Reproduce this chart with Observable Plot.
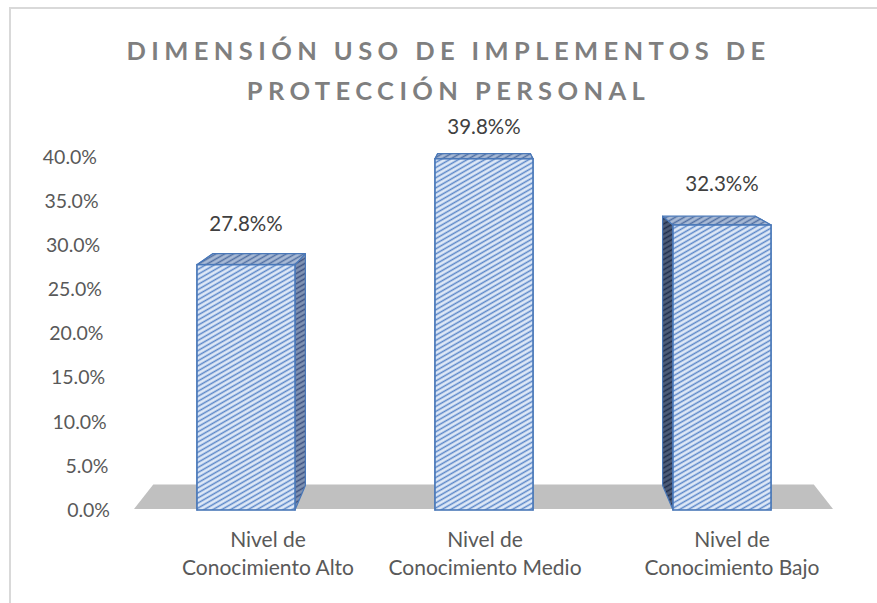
<!DOCTYPE html>
<html>
<head>
<meta charset="utf-8">
<script src="https://cdn.jsdelivr.net/npm/d3@7"></script>
<script src="https://cdn.jsdelivr.net/npm/@observablehq/plot@0.6"></script>
<style>
  html, body { margin: 0; padding: 0; background: #fff; }
  #wrap { position: relative; width: 877px; height: 603px; overflow: hidden; }
  #frame { position: absolute; left: 9px; top: 7px; width: 900px; height: 700px; border-left: 2px solid #d9d9d9; border-top: 2px solid #d9d9d9; box-sizing: border-box; }
  #title { position: absolute; left: 0; top: 30px; width: 877px; text-align: center; font-family: Lato, "Open Sans", sans-serif; font-weight: 700; font-size: 25.5px; letter-spacing: 5.4px; padding-left: 20px; box-sizing: border-box; line-height: 40px; color: #7f7f7f; }
  #chart { position: absolute; left: 0; top: 0; }
</style>
</head>
<body>
<div id="wrap">
  <div id="frame"></div>
  <div id="chart"></div>
  <div id="title">DIMENSIÓN USO DE IMPLEMENTOS DE<br>PROTECCIÓN PERSONAL</div>
</div>
<script>
// ---- data ----
const categories = ["Nivel de Conocimiento Alto", "Nivel de Conocimiento Medio", "Nivel de Conocimiento Bajo"];
const axisLabels = ["Nivel de\nConocimiento Alto", "Nivel de\nConocimiento Medio", "Nivel de\nConocimiento Bajo"];
const values = [27.8, 39.8, 32.3];
const valueLabels = ["27.8%%", "39.8%%", "32.3%%"];
const yTicks = [0, 5, 10, 15, 20, 25, 30, 35, 40];
const yTickLabels = ["0.0%", "5.0%", "10.0%", "15.0%", "20.0%", "25.0%", "30.0%", "35.0%", "40.0%"];

const data = categories.map((c, i) => ({cat: c, value: values[i], label: valueLabels[i], axis: axisLabels[i]}));

const FONT = "Lato, 'Open Sans', sans-serif";
const TEXT = "#595959";

// 3D decoration: floor, top faces, side faces (computed from scales)
function solids(index, scales, vals, dims) {
  const {x, y} = scales;
  const g = d3.create("svg:g");
  const defs = g.append("defs");
  function pat(id, bg, fg) {
    const p = defs.append("pattern").attr("id", id).attr("patternUnits", "userSpaceOnUse")
      .attr("width", 6).attr("height", 4.4).attr("patternTransform", "rotate(-30)");
    p.append("rect").attr("width", 6).attr("height", 4.4).attr("fill", bg);
    p.append("line").attr("x1", 0).attr("x2", 6).attr("y1", 2.2).attr("y2", 2.2)
      .attr("stroke", fg).attr("stroke-width", 1.5);
  }
  pat("hFront", "#dfe9f7", "#5a86c8");
  pat("hTop", "#a9bad5", "#506fa3");
  pat("hSideL", "#4d5c78", "#1f2d4c");
  pat("hSideR", "#8193b2", "#3c5283");

  const [r0, r1] = x.range();
  const vx = (r0 + r1) / 2;
  const vy = y(40) - 92;
  const k = 0.945;
  const proj = ([px, py]) => [vx + k * (px - vx), vy + k * (py - vy)];
  const path = pts => "M" + pts.map(p => p.join(",")).join("L") + "Z";

  // floor
  const fy = y(0) - 1;
  const fl = [r0 + 7, fy], fr = [r1 - 8, fy];
  g.append("path").attr("d", path([fl, fr, proj(fr), proj(fl)])).attr("fill", "#c0c0c0");

  for (const d of data) {
    const x0 = x(d.cat), x1 = x0 + x.bandwidth();
    const yt = y(d.value), yb = y(0);
    const side = (sx) => [[sx, yt], proj([sx, yt]), proj([sx, yb]), [sx, yb]];
    [[x0, "url(#hSideL)"], [x1, "url(#hSideR)"]].forEach(([sx, f]) => {
      g.append("path").attr("d", path(side(sx))).attr("fill", f)
        .attr("stroke", "#4a78b8").attr("stroke-width", 1.2).attr("stroke-linejoin", "round");
    });
    const top = [[x0, yt], [x1, yt], proj([x1, yt]), proj([x0, yt])];
    g.append("path").attr("d", path(top)).attr("fill", "url(#hTop)")
      .attr("stroke", "#4a78b8").attr("stroke-width", 1.2).attr("stroke-linejoin", "round");
  }
  return g.node();
}

// y tick labels, slightly tilted as in the 3D axis
function yAxisText(index, scales, vals, dims) {
  const {x, y} = scales;
  const g = d3.create("svg:g");
  const base = x.range()[0] - 17;
  yTicks.forEach((t, i) => {
    const py = y(t);
    g.append("text").attr("x", base - (y(0) - py) * 0.037).attr("y", py).attr("dy", "0.35em")
      .attr("text-anchor", "end").attr("fill", TEXT)
      .attr("font-family", FONT).attr("font-size", 19.5).text(yTickLabels[i]);
  });
  return g.node();
}

// value labels above the bars
function valueText(index, scales, vals, dims) {
  const {x, y} = scales;
  const g = d3.create("svg:g");
  for (const d of data) {
    const cx = x(d.cat) + x.bandwidth() / 2;
    const ty = Math.max(y(d.value) - 41, y(40) - 30);
    g.append("text").attr("x", cx).attr("y", ty).attr("dy", "0.35em")
      .attr("text-anchor", "middle").attr("fill", "#404040")
      .attr("font-family", FONT).attr("font-size", 20.5).text(d.label);
  }
  return g.node();
}

// category labels (shifted slightly as on the 3D floor)
function xAxisText(index, scales, vals, dims) {
  const {x, y} = scales;
  const g = d3.create("svg:g");
  const mid = (x.range()[0] + x.range()[1]) / 2;
  for (const d of data) {
    const cx = x(d.cat) + x.bandwidth() / 2;
    const shift = cx < mid - 1 ? 22 : cx > mid + 1 ? 10 : 1;
    const t = g.append("text").attr("text-anchor", "middle").attr("fill", TEXT)
      .attr("font-family", FONT).attr("font-size", 21);
    d.axis.split("\n").forEach((line, j) => {
      t.append("tspan").attr("x", cx + shift).attr("y", y(0) + 30 + j * 28).attr("dy", "0.35em").text(line);
    });
  }
  return g.node();
}

const plot = Plot.plot({
  width: 877,
  height: 603,
  marginLeft: 127,
  marginRight: 36,
  marginTop: 157,
  marginBottom: 93,
  style: {fontFamily: FONT, fontSize: "17px", color: TEXT, background: "transparent"},
  x: {domain: categories, paddingInner: 0.588, paddingOuter: 0.294, axis: null},
  y: {domain: [0, 40], axis: null},
  marks: [
    solids,
    Plot.barY(data, {x: "cat", y: "value", fill: "url(#hFront)", stroke: "#4a78b8", strokeWidth: 1.6}),
    yAxisText,
    valueText,
    xAxisText
  ]
});
document.getElementById("chart").appendChild(plot);
</script>
</body>
</html>
